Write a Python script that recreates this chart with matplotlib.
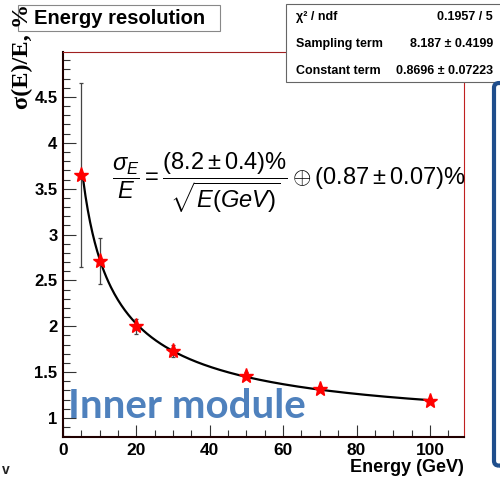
import numpy as np
import matplotlib
matplotlib.use('Agg')
import matplotlib.pyplot as plt
from matplotlib.patches import FancyBboxPatch, Rectangle
from matplotlib.ticker import MultipleLocator

plt.rcParams['font.family'] = ['Liberation Sans', 'DejaVu Sans']
plt.rcParams['mathtext.fontset'] = 'custom'
plt.rcParams['mathtext.rm'] = 'Liberation Sans'
plt.rcParams['mathtext.it'] = 'Liberation Sans:italic'
plt.rcParams['mathtext.bf'] = 'Liberation Sans:bold'

# 數據 (energy in GeV, resolution in %)
energy = [5, 10, 20, 30, 50, 70, 100]
resolution = [3.65, 2.71, 2.00, 1.73, 1.46, 1.315, 1.185]
res_err = [1.0, 0.25, 0.08, 0.07, 0.04, 0.03, 0.03]

# fit results: sigma/E = a/sqrt(E) (+) b
sampling = 8.187
constant = 0.8696
fit_range = (5.5, 100)

stat_labels = ['χ² / ndf', 'Sampling term', 'Constant term']
stat_values = ['0.1957 / 5', '8.187 ± 0.4199', '0.8696 ± 0.07223']

fig = plt.figure(figsize=(5, 4.8), dpi=100)
ax = fig.add_axes([0.126, 0.0896, 0.802, 0.802])

e_fit = np.linspace(fit_range[0], fit_range[1], 300)
ax.plot(e_fit, np.sqrt((sampling / np.sqrt(e_fit))**2 + constant**2), color='black', lw=1.6, zorder=2)
ax.errorbar(energy, resolution, yerr=res_err, fmt='none', ecolor='#444444', elinewidth=0.9,
            capsize=1.5, capthick=0.9, zorder=3)
ax.plot(energy, resolution, '*', color='red', markersize=11, zorder=4)

ax.set_xlim(0, 109.3)
ax.set_ylim(0.793, 4.99)
ax.xaxis.set_major_locator(MultipleLocator(20))
ax.xaxis.set_minor_locator(MultipleLocator(5))
ax.yaxis.set_major_locator(MultipleLocator(0.5))
ax.yaxis.set_minor_locator(MultipleLocator(0.1))
ax.yaxis.set_major_formatter(matplotlib.ticker.FuncFormatter(lambda v, p: f'{v:g}'))
ax.tick_params(which='both', direction='in', top=False, right=False, width=0.8, color='#333333')
ax.tick_params(which='major', length=9, pad=4)
ax.tick_params(axis='x', which='major', labelsize=12.5)
ax.tick_params(axis='y', which='major', labelsize=12)
for lab in ax.get_xticklabels() + ax.get_yticklabels():
    lab.set_fontweight('bold')
ax.tick_params(which='minor', length=5)

ax.spines['left'].set_color('#200000')
ax.spines['bottom'].set_color('#200000')
ax.spines['left'].set_linewidth(1.5)
ax.spines['bottom'].set_linewidth(1.5)
ax.spines['top'].set_color('#a02020')
ax.spines['right'].set_color('#c02020')

fig.text(0.928, 0.027, 'Energy (GeV)', ha='right', va='center', fontsize=13, fontweight='bold')
fig.text(0.045, 0.882, 'σ(E)/E, %', rotation=90, ha='center', va='center',
         fontsize=17.5, fontweight='bold', family=['Liberation Serif', 'DejaVu Serif'], zorder=7)

# 公式
ax.text(0.122, 0.66,
        r'$\dfrac{\sigma_{E}}{E} = \dfrac{(8.2\pm0.4)\%}{\sqrt{E(GeV)}}\oplus(0.87\pm0.07)\%$',
        transform=ax.transAxes, fontsize=17, va='center', ha='left')

ax.text(0.012, 0.049, 'Inner module', transform=ax.transAxes, fontsize=29, fontweight='bold',
        color='#4f81bd', family=['Lato', 'DejaVu Sans'], ha='left', va='baseline')

# title box
fig.patches.append(Rectangle((0.036, 0.935), 0.404, 0.055, transform=fig.transFigure,
                             facecolor='white', edgecolor='#888888', lw=0.8, zorder=5))
fig.text(0.240, 0.962, 'Energy resolution', ha='center', va='center', fontsize=14.5,
         fontweight='bold', zorder=6)

# stats box
fig.patches.append(Rectangle((0.572, 0.829), 0.45, 0.162, transform=fig.transFigure,
                             facecolor='white', edgecolor='#666666', lw=0.8, zorder=5))
for i, (lab, val) in enumerate(zip(stat_labels, stat_values)):
    y = 0.964 - i * 0.056
    fig.text(0.592, y, lab, ha='left', va='center', fontsize=9, fontweight='bold', zorder=6)
    fig.text(0.986, y, val, ha='right', va='center', fontsize=9, fontweight='bold', zorder=6)

# blue frame at right
fig.patches.append(FancyBboxPatch((0.988, 0.030), 0.2, 0.797, boxstyle='round,pad=0,rounding_size=0.01',
                                  transform=fig.transFigure, facecolor='none', edgecolor='#1f4e8c',
                                  lw=3, zorder=5))

fig.text(0.004, 0.02, 'v', ha='left', va='center', fontsize=10, fontweight='bold', color='#222222')

plt.savefig('out.png', dpi=100)
